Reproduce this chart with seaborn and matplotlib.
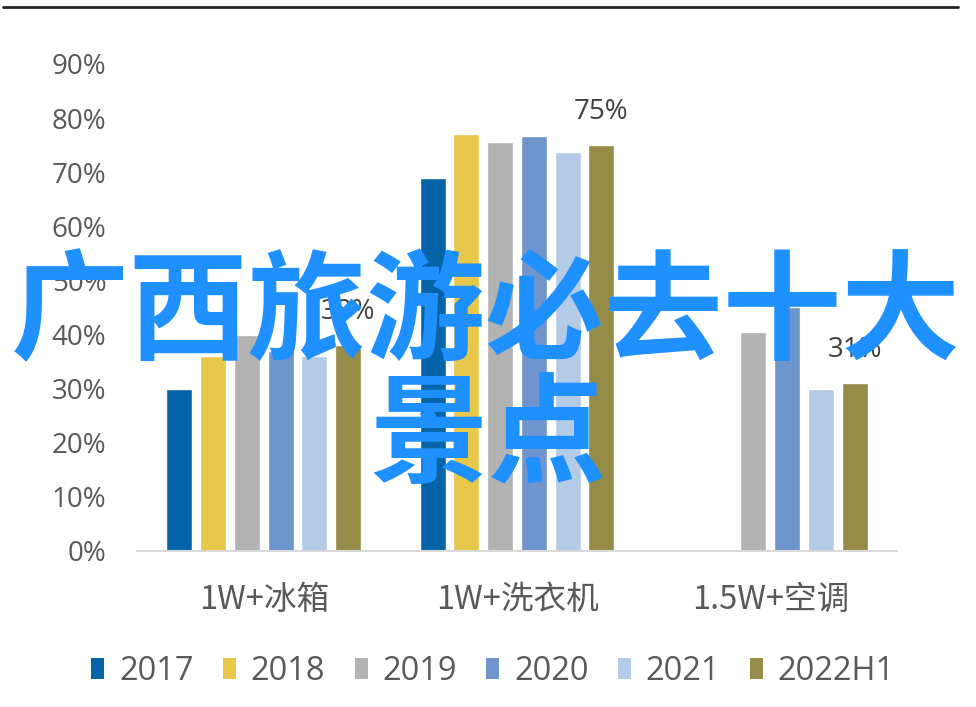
import numpy as np
import pandas as pd
import matplotlib
matplotlib.use("Agg")
import matplotlib.pyplot as plt
from matplotlib.patches import Patch
import seaborn as sns

categories = ["1W+冰箱", "1W+洗衣机", "1.5W+空调"]
years = ["2017", "2018", "2019", "2020", "2021", "2022H1"]
v2017 = [0.30, 0.69, np.nan]
v2018 = [0.36, 0.77, np.nan]
v2019 = [0.40, 0.755, 0.405]
v2020 = [0.37, 0.766, 0.45]
v2021 = [0.36, 0.738, 0.30]
v2022 = [0.38, 0.75, 0.31]
colors = ["#0563A7", "#E8C84A", "#B3B3B3", "#7094CC", "#B4CBE8", "#968C4A"]
yticks = [0, 0.1, 0.2, 0.3, 0.4, 0.5, 0.6, 0.7, 0.8, 0.9]
title_l1 = "广西旅游必去十大"
title_l2 = "景点"

series = [v2017, v2018, v2019, v2020, v2021, v2022]
rows = []
for y, vals in zip(years, series):
    for c, v in zip(categories, vals):
        rows.append({"cat": c, "year": y, "val": v})
df = pd.DataFrame(rows)

sns.set_style("white")
plt.rcParams["font.family"] = ["Open Sans", "Noto Sans CJK SC", "DejaVu Sans"]

fig = plt.figure(figsize=(9.76, 7.07), dpi=100)
ax = fig.add_axes([0.1404, 0.2207, 0.7787, 0.6888])

sns.barplot(data=df, x="cat", y="val", hue="year", hue_order=years,
            order=categories, palette=colors, width=0.8, gap=0.23,
            errorbar=None, saturation=1, ax=ax, legend=False)

ax.set_ylim(0, 0.9)
ax.set_xlim(-0.5, 2.5)
ax.set_yticks(yticks)
ax.set_yticklabels([f"{int(round(t*100))}%" for t in yticks])
ax.set_xlabel("")
ax.set_ylabel("")
for s in ["top", "right", "left"]:
    ax.spines[s].set_visible(False)
ax.spines["bottom"].set_color("#d9d9d9")
ax.spines["bottom"].set_linewidth(1.5)
ax.tick_params(axis="y", length=0, pad=22, labelsize=20, labelcolor="#595959")
ax.tick_params(axis="x", length=0, pad=24, labelcolor="#595959")
for lab in ax.get_xticklabels():
    lab.set_fontfamily(["Noto Sans CJK SC", "DejaVu Sans"])
    lab.set_fontsize(23.5)
    lab.set_fontweight("light")

# data labels on the 2022H1 series
ax.bar_label(ax.containers[-1], labels=[f"{v:.0%}" for v in v2022],
             padding=14, fontsize=20, color="#404040")

handles = [Patch(facecolor=c, edgecolor="none") for c in colors]
fig.legend(handles, years, loc="center", bbox_to_anchor=(0.505, 0.050),
           ncol=6, frameon=False, fontsize=23.5, labelcolor="#595959",
           handlelength=0.4, handleheight=0.6, handletextpad=0.45,
           columnspacing=0.9)

# top rule
fig.add_artist(plt.Line2D([0.003, 0.982], [1 - 6.5/707, 1 - 6.5/707],
                          transform=fig.transFigure, color="#222222", lw=2))

# overlay text
fig.text(486/976, 1 - 316/707, title_l1, ha="center", va="center",
         fontsize=85.5, fontweight="bold", color="#1E90FF",
         family=["Noto Sans CJK SC", "DejaVu Sans"])
fig.text(488/976, 1 - 439/707, title_l2, ha="center", va="center",
         fontsize=85.5, fontweight="bold", color="#1E90FF",
         family=["Noto Sans CJK SC", "DejaVu Sans"])

fig.savefig("out.png", dpi=100)
